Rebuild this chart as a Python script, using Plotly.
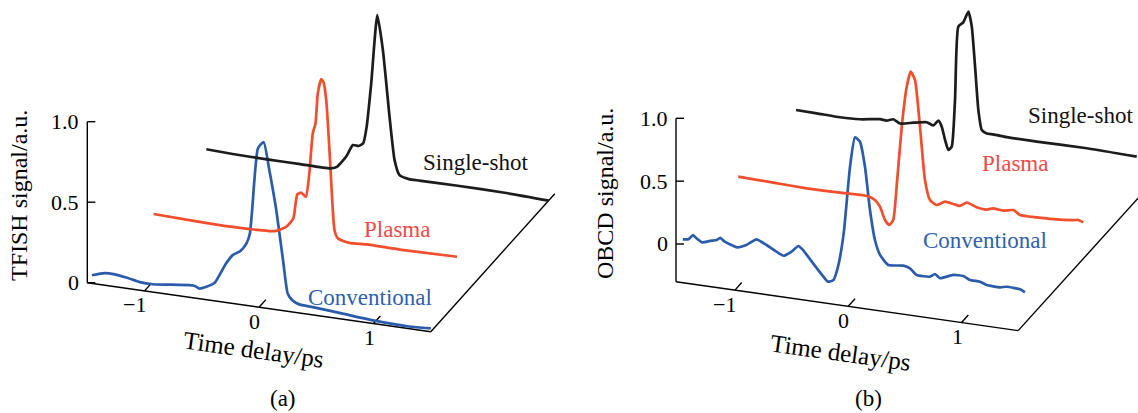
import plotly.graph_objects as go

W, H = 1138, 413
FONT = "Liberation Serif, Times New Roman, serif"

# ---------------- data ----------------
series_names = ["Conventional", "Plasma", "Single-shot"]
series_depth = [0.0, 0.47, 0.96]          # position of each trace along the depth axis
line_colors = ["#2b5cab", "#f04e2c", "#1c1c1c"]
text_colors = ["#2f5fae", "#ee4a46", "#111111"]

time_ticks = [-1, 0, 1]
time_tick_text = ["\u22121", "0", "1"]
signal_ticks = [0.0, 0.5, 1.0]
signal_tick_text = ["0", "0.5", "1.0"]

# (a) TFISH
a_conv_t = [-1.46, -1.35, -1.27, -1.16, -1.04, -0.93, -0.81, -0.61, -0.56, -0.52, -0.46, -0.39,
            -0.32, -0.29, -0.23, -0.16, -0.11, -0.08, -0.06, -0.01, 0.04, 0.09, 0.15, 0.21,
            0.25, 0.29, 0.35, 0.47, 0.73, 1.02, 1.31, 1.50]
a_conv_v = [0.050, 0.075, 0.077, 0.067, 0.050, 0.048, 0.058, 0.075, 0.075, 0.063, 0.080, 0.110,
            0.200, 0.240, 0.300, 0.335, 0.385, 0.450, 0.600, 0.985, 1.030, 0.860, 0.620, 0.310,
            0.110, 0.072, 0.053, 0.048, 0.034, 0.018, 0.013, 0.020]

a_plasma_t = [-1.43, -1.08, -0.79, -0.50, -0.37, -0.27, -0.21, -0.175, -0.14, -0.10, -0.07, -0.04,
              -0.016, 0.004, 0.034, 0.054, 0.078, 0.106, 0.13, 0.15, 0.18, 0.28, 0.43, 0.72, 1.22]
a_plasma_v = [0.031, 0.024, 0.020, 0.025, 0.032, 0.070, 0.127, 0.280, 0.294, 0.273, 0.421, 0.672,
              0.737, 0.925, 1.017, 1.000, 0.890, 0.583, 0.275, 0.090, 0.042, 0.025, 0.031, 0.028, 0.034]

a_single_t = [-1.50, -1.27, -0.97, -0.68, -0.42, -0.36, -0.28, -0.22, -0.17, -0.13, -0.10, -0.06,
              -0.007, 0.042, 0.10, 0.144, 0.187, 0.27, 0.36, 0.68, 1.12, 1.49]
a_single_v = [0.006, 0.000, -0.003, -0.003, -0.003, 0.012, 0.083, 0.162, 0.161, 0.182, 0.287, 0.561,
              0.990, 0.778, 0.370, 0.105, 0.016, 0.000, 0.000, 0.002, 0.000, -0.010]

# (b) OBCD
b_conv_t = [-1.46, -1.41, -1.37, -1.34, -1.29, -1.22, -1.16, -1.13, -1.09, -0.98, -0.90, -0.81,
            -0.72, -0.57, -0.50, -0.44, -0.40, -0.31, -0.23, -0.18, -0.13, -0.09, -0.04, 0.016,
            0.06, 0.104, 0.148, 0.192, 0.236, 0.281, 0.354, 0.486, 0.545, 0.604, 0.722, 0.766,
            0.81, 0.927, 1.016, 1.075, 1.163, 1.222, 1.34, 1.399, 1.516, 1.56]
b_conv_v = [0.045, 0.052, 0.091, 0.069, 0.043, 0.063, 0.078, 0.100, 0.074, 0.043, 0.072, 0.129,
            0.095, 0.029, 0.070, 0.123, 0.097, 0.002, -0.081, -0.127, -0.107, 0.004, 0.275, 0.813,
            1.052, 1.023, 0.830, 0.491, 0.258, 0.145, 0.075, 0.086, 0.073, 0.027, 0.029, 0.056,
            0.028, 0.069, 0.072, 0.048, 0.046, 0.027, 0.024, 0.036, 0.031, 0.013]

b_plasma_t = [-1.485, -1.176, -0.881, -0.587, -0.351, -0.278, -0.234, -0.19, -0.152, -0.117, -0.087,
              -0.042, 0.002, 0.037, 0.075, 0.119, 0.163, 0.207, 0.266, 0.34, 0.413, 0.472, 0.531,
              0.619, 0.708, 0.766, 0.854, 0.943, 1.002, 1.149, 1.296, 1.472, 1.516, 1.56]
b_plasma_v = [0.028, 0.020, 0.013, 0.016, 0.020, -0.002, -0.050, -0.150, -0.185, -0.141, 0.128,
              0.611, 0.935, 1.059, 0.998, 0.632, 0.214, 0.060, 0.028, 0.064, 0.055, 0.047, 0.082,
              0.056, 0.049, 0.066, 0.059, 0.075, 0.044, 0.044, 0.049, 0.064, 0.070, 0.057]

b_single_t = [-1.511, -1.328, -1.123, -0.946, -0.77, -0.711, -0.652, -0.593, -0.476, -0.358, -0.299,
              -0.255, -0.225, -0.196, -0.167, -0.137, -0.108, -0.079, -0.035, 0.01, 0.04, 0.069,
              0.098, 0.128, 0.172, 0.23, 0.348, 0.613, 1.055, 1.496]
b_single_v = [0.021, 0.018, 0.013, 0.020, 0.043, 0.040, 0.058, 0.032, 0.053, 0.072, 0.054,
              0.098, 0.054, -0.048, -0.124, -0.094, 0.282, 0.869, 0.908, 1.000, 0.884, 0.569,
              0.228, 0.073, 0.051, 0.051, 0.044, 0.043, 0.047, 0.037]

# ---------------- oblique projection geometry (pixels) ----------------
GEOM = {
    "a": dict(px0=0, px1=569, ox=87.3, oy=282.7, t0=-1.5, t1=1.5, v0=0.0, vtop=1.0,
              kx=114.5, ky=161.0, sy=16.33, dxp=124.0, dyp=-138.0,
              xa="x", ya="y", ytitle="TFISH signal/a.u.", tag="(a)",
              ytitle_pos=(19, 196), xtitle_pos=(253, 349), tag_pos=(283, 398),
              label_pos=[(0.97, 0.16), (0.70, 0.15), (0.85, 0.16)],
              series=[(a_conv_t, a_conv_v), (a_plasma_t, a_plasma_v), (a_single_t, a_single_v)]),
    "b": dict(px0=569, px1=1138, ox=676.0, oy=281.7, t0=-1.52, t1=1.5, v0=-0.3, vtop=1.0,
              kx=113.3, ky=125.7, sy=16.2, dxp=124.0, dyp=-137.0,
              xa="x2", ya="y2", ytitle="OBCD signal/a.u.", tag="(b)",
              ytitle_pos=(605, 194), xtitle_pos=(840, 352), tag_pos=(868, 398),
              label_pos=[(1.21, 0.38), (0.96, 0.45), (1.00, 0.30)],
              series=[(b_conv_t, b_conv_v), (b_plasma_t, b_plasma_v), (b_single_t, b_single_v)]),
}


def project(g, t, v, d):
    xs = [ti + d * g["dxp"] / g["kx"] for ti in t]
    ys = [vi - (ti - g["t0"]) * g["sy"] / g["ky"] - d * g["dyp"] / g["ky"] for ti, vi in zip(t, v)]
    return xs, ys


def paper(px, py):
    return px / W, 1 - py / H


fig = go.Figure()
annotations = []
AX = dict(color="black", width=1.4)

for key, g in GEOM.items():
    xa, ya = g["xa"], g["ya"]
    t0, t1, v0 = g["t0"], g["t1"], g["v0"]

    # axes frame: vertical signal axis, time axis, depth axis
    for tt, vv, dd in [([t0, t0], [v0, g["vtop"]], [0, 0]),
                       ([t0, t1], [v0, v0], [0, 0]),
                       ([t1, t1], [v0, v0], [0, 1])]:
        xs, ys = [], []
        for ti, vi, di in zip(tt, vv, dd):
            x1, y1 = project(g, [ti], [vi], di)
            xs += x1
            ys += y1
        fig.add_trace(go.Scatter(x=xs, y=ys, mode="lines", line=AX, xaxis=xa, yaxis=ya,
                                 hoverinfo="skip", showlegend=False))

    # signal ticks (pointing inward) and labels
    for val, txt in zip(signal_ticks, signal_tick_text):
        x1, y1 = project(g, [t0], [val], 0)
        fig.add_trace(go.Scatter(x=[x1[0], x1[0] + 8 / g["kx"]], y=[y1[0], y1[0]], mode="lines",
                                 line=AX, xaxis=xa, yaxis=ya, hoverinfo="skip", showlegend=False))
        annotations.append(dict(x=x1[0], y=y1[0], xref=xa, yref=ya, text=txt, showarrow=False,
                                xanchor="right", yanchor="middle", xshift=-6,
                                font=dict(family=FONT, size=22, color="black")))

    # time ticks along the depth direction, and labels
    for tk, txt in zip(time_ticks, time_tick_text):
        xs0, ys0 = project(g, [tk], [v0], 0)
        xs1, ys1 = project(g, [tk], [v0], 0.055)
        fig.add_trace(go.Scatter(x=[xs0[0], xs1[0]], y=[ys0[0], ys1[0]], mode="lines",
                                 line=AX, xaxis=xa, yaxis=ya, hoverinfo="skip", showlegend=False))
        annotations.append(dict(x=xs0[0], y=ys0[0], xref=xa, yref=ya, text=txt, showarrow=False,
                                xanchor="right", yanchor="middle", xshift=3, yshift=-14,
                                font=dict(family=FONT, size=22, color="black")))

    # data traces
    for (t, v), d, col, tcol, name, lp in zip(g["series"], series_depth, line_colors,
                                               text_colors, series_names, g["label_pos"]):
        xs, ys = project(g, t, v, d)
        fig.add_trace(go.Scatter(x=xs, y=ys, mode="lines", name=name,
                                 line=dict(color=col, width=2.7, shape="spline", smoothing=0.5),
                                 xaxis=xa, yaxis=ya, showlegend=False))
        lx, ly = project(g, [lp[0]], [lp[1]], d)
        annotations.append(dict(x=lx[0], y=ly[0], xref=xa, yref=ya, text=name, showarrow=False,
                                xanchor="center", yanchor="middle",
                                font=dict(family=FONT, size=23, color=tcol)))

    # titles
    px, py = paper(*g["ytitle_pos"])
    annotations.append(dict(x=px, y=py, xref="paper", yref="paper", text=g["ytitle"],
                            showarrow=False, textangle=-90, xanchor="center", yanchor="middle",
                            font=dict(family=FONT, size=24, color="black")))
    px, py = paper(*g["xtitle_pos"])
    annotations.append(dict(x=px, y=py, xref="paper", yref="paper", text="Time delay/ps",
                            showarrow=False, textangle=8, xanchor="center", yanchor="middle",
                            font=dict(family=FONT, size=25, color="black")))
    px, py = paper(*g["tag_pos"])
    annotations.append(dict(x=px, y=py, xref="paper", yref="paper", text=g["tag"],
                            showarrow=False, xanchor="center", yanchor="middle",
                            font=dict(family=FONT, size=23, color="black")))

    # axis ranges so that one pixel is the same everywhere in the panel
    xr = [t0 + (g["px0"] - g["ox"]) / g["kx"], t0 + (g["px1"] - g["ox"]) / g["kx"]]
    yr = [v0 + (g["oy"] - H) / g["ky"], v0 + g["oy"] / g["ky"]]
    suffix = "" if key == "a" else "2"
    fig.update_layout(**{
        "xaxis" + suffix: dict(domain=[g["px0"] / W, g["px1"] / W], range=xr, visible=False,
                               fixedrange=True),
        "yaxis" + suffix: dict(domain=[0, 1], range=yr, visible=False, fixedrange=True,
                               anchor="x" + suffix),
    })

fig.update_layout(width=W, height=H, margin=dict(l=0, r=0, t=0, b=0),
                  paper_bgcolor="white", plot_bgcolor="white",
                  annotations=annotations, showlegend=False)
fig.write_html("out.html", config={"displayModeBar": False})
